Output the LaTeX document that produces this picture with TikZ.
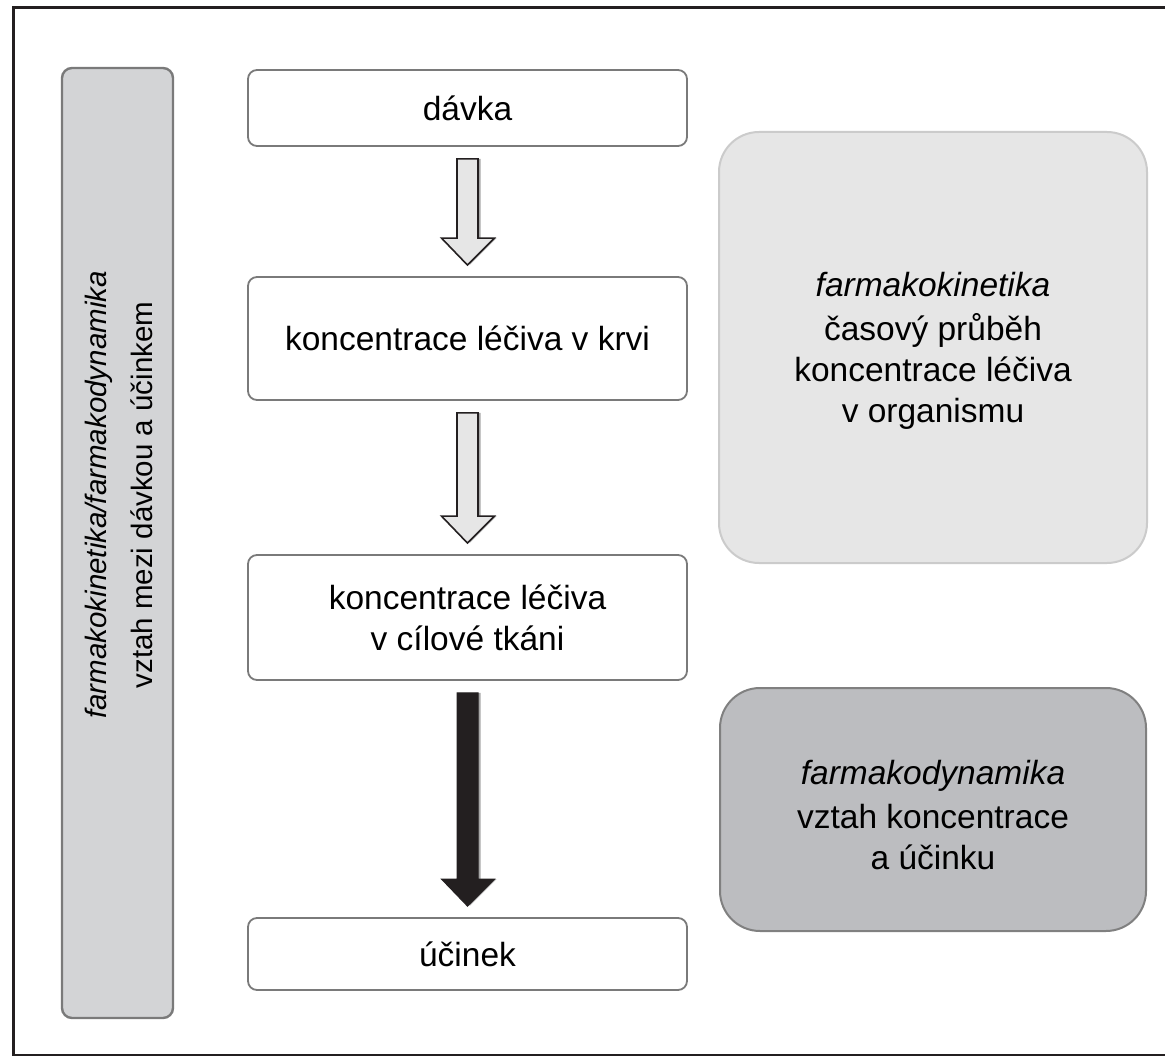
\documentclass[tikz,border=0pt]{standalone}
\usepackage{fontspec}
\setmainfont{Liberation Sans}
\usetikzlibrary{calc}

\definecolor{frameink}{HTML}{231F20}
\definecolor{boxline}{HTML}{7A7A7A}
\definecolor{sidefill}{HTML}{D3D4D6}
\definecolor{kinfill}{HTML}{E6E6E6}
\definecolor{kinline}{HTML}{CBCBCB}
\definecolor{dynfill}{HTML}{BCBDC0}
\definecolor{dynline}{HTML}{808080}
\definecolor{arrowfill}{HTML}{E6E6E6}
\definecolor{arrowshade}{HTML}{A8A8A8}

% block arrow pointing down from the south side of #1 to the north side of #2
\newcommand\blockarrow[3]{%
  \path[fill=arrowshade] let \p1=(#1.south), \p2=(#2.north) in
    (\x1+8pt,\y1-12pt) -- (\x1+13pt,\y1-12pt) -- (\x1+13pt,\y2+38pt)
    -- (\x1+29pt,\y2+38pt) -- (\x1+2pt,\y2+11pt) -- cycle;
  \path[#3] let \p1=(#1.south), \p2=(#2.north) in
    (\x1-10.5pt,\y1-12pt) -- (\x1+10.5pt,\y1-12pt) -- (\x1+10.5pt,\y2+38pt)
    -- (\x1+27pt,\y2+38pt) -- (\x1,\y2+11pt) -- (\x1-26pt,\y2+38pt)
    -- (\x1-10.5pt,\y2+38pt) -- cycle;}

\tikzset{
  mainfont/.style={font=\fontsize{33.5}{41}\selectfont},
  stepbox/.style={draw=boxline, line width=1.8pt, fill=white, rounded corners=9pt,
    minimum width=439pt, align=center, mainfont},
  sidebox/.style={draw=boxline, line width=2.4pt, fill=sidefill, rounded corners=10pt},
  kinbox/.style={draw=kinline, line width=2pt, fill=kinfill, rounded corners=40pt},
  dynbox/.style={draw=dynline, line width=2pt, fill=dynfill, rounded corners=40pt},
  hollowarrow/.style={fill=arrowfill, draw=frameink, line width=1.6pt, line join=miter},
  solidarrow/.style={fill=frameink, draw=frameink, line width=1pt, line join=miter},
}

\begin{document}
\begin{tikzpicture}[x=1pt, y=-1pt]
  \useasboundingbox (0,0) rectangle (1165,1056);
  % outer frame
  \draw[frameink, line width=3pt] (13.5,7.5) rectangle (1180,1055);

  % left side band with rotated caption
  \node[sidebox, minimum width=111pt, minimum height=950pt] (side) at (117.5,543) {};
  \node[rotate=90, align=center, font=\fontsize{29.5}{46}\selectfont] (sidetext) at (119,495)
    {\textit{farmakokinetika/farmakodynamika}\\vztah mezi dávkou a účinkem};

  % main chain of steps
  \node[stepbox, minimum height=76pt] (dose) at (467.5,108) {dávka};
  \node[stepbox, minimum height=123pt] (blood) at (467.5,338.5) {koncentrace léčiva v krvi};
  \node[stepbox, minimum height=125pt] (tissue) at (467.5,617.5) {koncentrace léčiva\\v cílové tkáni};
  \node[stepbox, minimum height=72pt] (effect) at (467.5,954) {účinek};

  % arrows between steps
  \blockarrow{dose}{blood}{hollowarrow}
  \blockarrow{blood}{tissue}{hollowarrow}
  \blockarrow{tissue}{effect}{solidarrow}

  % explanatory panels
  \node[kinbox, minimum width=428pt, minimum height=431pt] (kin) at (933,347.5) {};
  \node[align=center, mainfont] (kintext) at (933,351)
    {\textit{farmakokinetika}\\[3pt]časový průběh\\koncentrace léčiva\\v organismu};
  \node[dynbox, minimum width=426pt, minimum height=243pt] (dyn) at (933,809.5) {};
  \node[align=center, mainfont] (dyntext) at (933,815)
    {\textit{farmakodynamika}\\[3pt]vztah koncentrace\\a účinku};
\end{tikzpicture}
\end{document}
